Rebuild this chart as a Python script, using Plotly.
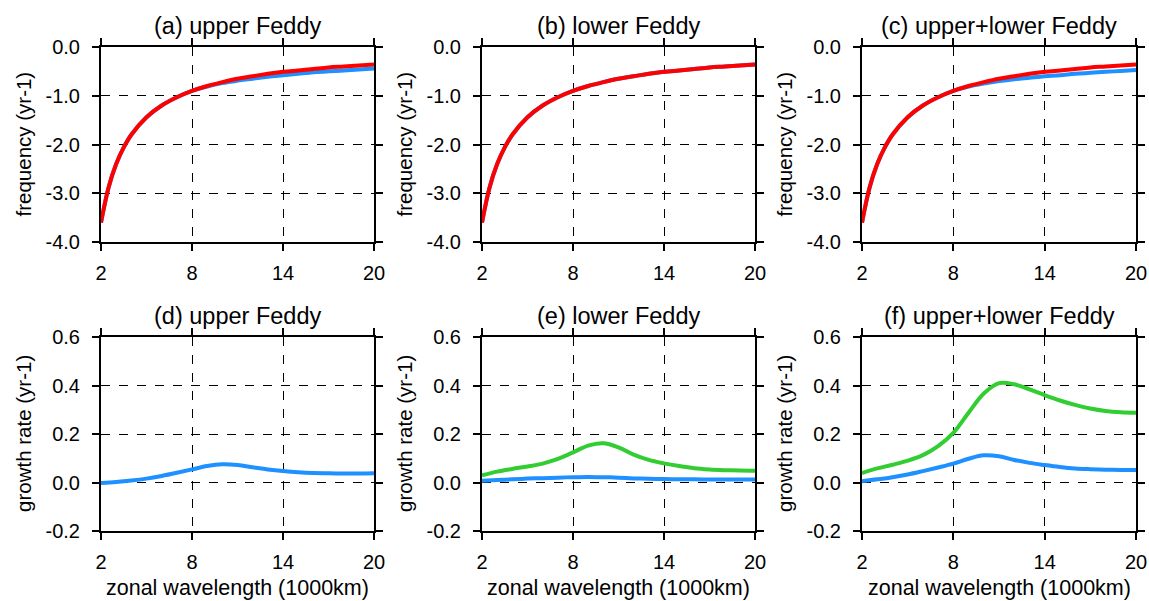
import plotly.graph_objects as go

W, H = 1149, 601

# ---------------- data ----------------
x_freq = [2, 2.5, 3, 3.5, 4, 5, 6, 7, 8, 9, 10, 11, 12, 13, 14, 15, 16, 17, 18, 19, 20]
x_grow = [2, 3, 4, 5, 6, 7, 8, 9, 10, 11, 12, 13, 14, 15, 16, 17, 18, 19, 20]

freq_a_red = [-3.60, -2.88, -2.40, -2.06, -1.80, -1.44, -1.20, -1.03, -0.90, -0.80, -0.72,
              -0.65, -0.60, -0.55, -0.51, -0.48, -0.45, -0.42, -0.40, -0.38, -0.36]
freq_a_blue = [-3.60, -2.88, -2.40, -2.06, -1.80, -1.44, -1.20, -1.03, -0.90, -0.81, -0.74,
               -0.69, -0.65, -0.61, -0.58, -0.55, -0.52, -0.50, -0.48, -0.46, -0.44]
freq_b_red = [-3.60, -2.88, -2.40, -2.06, -1.80, -1.44, -1.20, -1.03, -0.90, -0.80, -0.72,
              -0.65, -0.60, -0.55, -0.51, -0.48, -0.45, -0.42, -0.40, -0.38, -0.36]
freq_b_blue = [-3.60, -2.88, -2.40, -2.06, -1.80, -1.44, -1.20, -1.03, -0.90, -0.80, -0.72,
               -0.65, -0.60, -0.55, -0.51, -0.48, -0.45, -0.42, -0.40, -0.38, -0.36]
freq_c_red = [-3.60, -2.88, -2.40, -2.06, -1.80, -1.44, -1.20, -1.03, -0.90, -0.80, -0.72,
              -0.65, -0.60, -0.55, -0.51, -0.48, -0.45, -0.42, -0.40, -0.38, -0.36]
freq_c_blue = [-3.60, -2.88, -2.40, -2.06, -1.80, -1.44, -1.20, -1.03, -0.90, -0.81, -0.75,
               -0.70, -0.66, -0.63, -0.60, -0.58, -0.55, -0.53, -0.51, -0.49, -0.47]

grow_d_blue = [-0.002, 0.002, 0.008, 0.016, 0.027, 0.040, 0.054, 0.068, 0.075, 0.072, 0.063,
               0.054, 0.047, 0.042, 0.039, 0.038, 0.037, 0.037, 0.038]
grow_e_green = [0.030, 0.045, 0.056, 0.066, 0.078, 0.097, 0.124, 0.152, 0.162, 0.145, 0.115,
                0.093, 0.079, 0.068, 0.059, 0.054, 0.051, 0.049, 0.048]
grow_e_blue = [0.007, 0.010, 0.013, 0.016, 0.018, 0.020, 0.022, 0.023, 0.022, 0.020, 0.017,
               0.015, 0.014, 0.013, 0.013, 0.012, 0.012, 0.012, 0.012]
grow_f_green = [0.039, 0.058, 0.073, 0.090, 0.113, 0.150, 0.205, 0.288, 0.367, 0.410, 0.405,
                0.384, 0.360, 0.338, 0.320, 0.305, 0.295, 0.290, 0.288]
grow_f_blue = [0.005, 0.013, 0.022, 0.033, 0.047, 0.062, 0.078, 0.098, 0.112, 0.108, 0.093,
               0.081, 0.072, 0.064, 0.058, 0.055, 0.053, 0.052, 0.052]

x_ticks = [2, 8, 14, 20]
x_ticktext = ["2", "8", "14", "20"]
freq_ticks = [0.0, -1.0, -2.0, -3.0, -4.0]
freq_ticktext = ["0.0", "-1.0", "-2.0", "-3.0", "-4.0"]
grow_ticks = [0.6, 0.4, 0.2, 0.0, -0.2]
grow_ticktext = ["0.6", "0.4", "0.2", "0.0", "-0.2"]

titles = ["(a) upper Feddy", "(b) lower Feddy", "(c) upper+lower Feddy",
          "(d) upper Feddy", "(e) lower Feddy", "(f) upper+lower Feddy"]
ytitle_top = "frequency (yr-1)"
ytitle_bot = "growth rate (yr-1)"
xtitle = "zonal wavelength (1000km)"

RED = "#FF0000"
BLUE = "#1E90FF"
GREEN = "#32CD32"
FONT = "Liberation Sans, Arial, sans-serif"

# ---------------- layout geometry (pixels) ----------------
cols_px = [(101, 374), (482, 755), (862, 1136)]
rows_px = [(47, 242), (337, 531)]

fig = go.Figure()

panels = [
    (0, 0, [(x_freq, freq_a_blue, BLUE), (x_freq, freq_a_red, RED)]),
    (0, 1, [(x_freq, freq_b_blue, BLUE), (x_freq, freq_b_red, RED)]),
    (0, 2, [(x_freq, freq_c_blue, BLUE), (x_freq, freq_c_red, RED)]),
    (1, 0, [(x_grow, grow_d_blue, BLUE)]),
    (1, 1, [(x_grow, grow_e_green, GREEN), (x_grow, grow_e_blue, BLUE)]),
    (1, 2, [(x_grow, grow_f_green, GREEN), (x_grow, grow_f_blue, BLUE)]),
]

annotations = []
for i, (r, c, series) in enumerate(panels):
    n = i + 1
    xa = "x" if n == 1 else f"x{n}"
    ya = "y" if n == 1 else f"y{n}"
    for xs, ys, col in series:
        fig.add_trace(go.Scatter(x=xs, y=ys, mode="lines", xaxis=xa, yaxis=ya,
                                 line=dict(color=col, width=4, shape="spline", smoothing=1.0),
                                 showlegend=False, hoverinfo="skip"))
    x0, x1 = cols_px[c]
    y0, y1 = rows_px[r]
    dom_x = [x0 / W, x1 / W]
    dom_y = [1 - y1 / H, 1 - y0 / H]
    axcommon = dict(showline=True, linecolor="black", linewidth=2, mirror="ticks",
                    ticks="outside", ticklen=7, tickwidth=2, tickcolor="black",
                    showgrid=True, gridcolor="black", gridwidth=1, griddash="dash",
                    zeroline=False, automargin=False,
                    tickfont=dict(family=FONT, size=20, color="black"))
    xkey = "xaxis" if n == 1 else f"xaxis{n}"
    ykey = "yaxis" if n == 1 else f"yaxis{n}"
    fig.update_layout(**{
        xkey: dict(domain=dom_x, anchor=ya, range=[2, 20], tickvals=x_ticks,
                   ticktext=x_ticktext, ticklabelstandoff=5, **axcommon),
        ykey: dict(domain=dom_y, anchor=xa,
                   range=[-4, 0] if r == 0 else [-0.2, 0.6],
                   tickvals=freq_ticks if r == 0 else grow_ticks,
                   ticktext=freq_ticktext if r == 0 else grow_ticktext,
                   ticklabelstandoff=8, **axcommon),
    })
    cx = (x0 + x1) / 2 / W
    annotations.append(dict(text=titles[i], x=cx, y=1 - (y0 - 21) / H, xref="paper", yref="paper",
                            showarrow=False, xanchor="center", yanchor="middle",
                            font=dict(family=FONT, size=23.5, color="black")))
    annotations.append(dict(text=ytitle_top if r == 0 else ytitle_bot,
                            x=(x0 - 78) / W, y=1 - (y0 + y1) / 2 / H, xref="paper", yref="paper",
                            showarrow=False, textangle=-90, xanchor="center", yanchor="middle",
                            font=dict(family=FONT, size=20.5, color="black")))
    if r == 1:
        annotations.append(dict(text=xtitle, x=cx, y=1 - 588 / H, xref="paper", yref="paper",
                                showarrow=False, xanchor="center", yanchor="middle",
                                font=dict(family=FONT, size=21.5, color="black")))

fig.update_layout(width=W, height=H, margin=dict(l=0, r=0, t=0, b=0),
                  paper_bgcolor="white", plot_bgcolor="white",
                  annotations=annotations, showlegend=False)

fig.write_html("out.html")
